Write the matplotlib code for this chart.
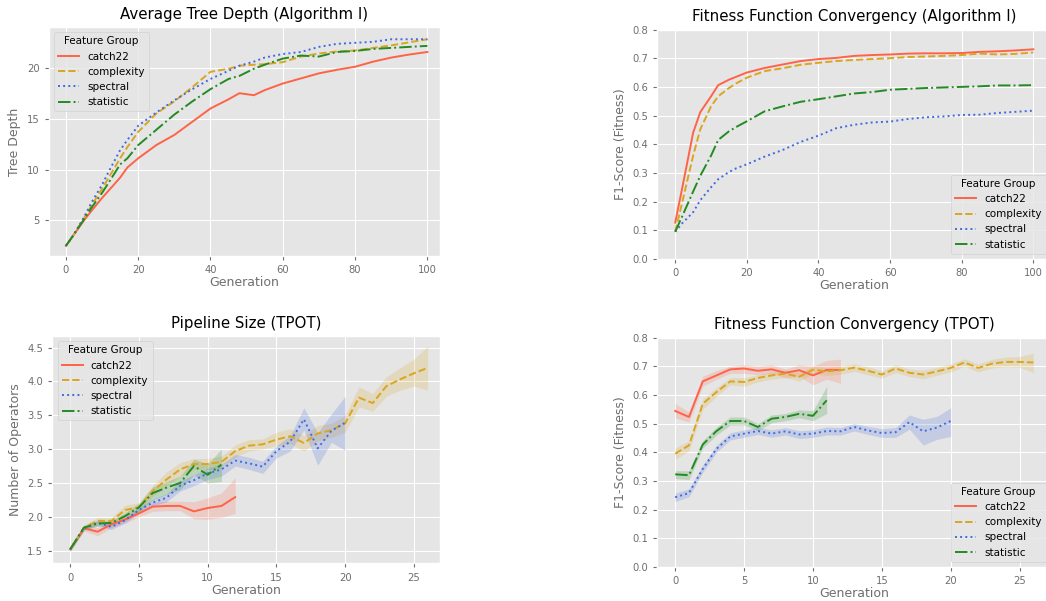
import matplotlib
matplotlib.use("Agg")
import matplotlib.pyplot as plt

plt.style.use("ggplot")

groups = ["catch22", "complexity", "spectral", "statistic"]
colors = ["tomato", "goldenrod", "royalblue", "forestgreen"]
styles = ["-", "--", ":", "-."]

# ---- Algorithm I: tree depth and fitness per generation ----
alg_gen = [0, 2, 5, 7, 10, 12, 15, 17, 20, 25, 30, 35, 40, 45, 48, 52, 55,
           60, 65, 70, 75, 80, 85, 90, 95, 100]
depth_catch22 = [2.5, 3.5, 5.0, 5.9, 7.2, 8.0, 9.2, 10.2, 11.1, 12.4, 13.4, 14.7,
                 16.0, 16.9, 17.5, 17.3, 17.8, 18.45, 18.95, 19.45, 19.8, 20.1,
                 20.6, 21.0, 21.3, 21.55]
depth_complexity = [2.5, 3.5, 5.2, 6.4, 8.1, 9.3, 11.1, 12.2, 13.7, 15.5, 16.7,
                    18.1, 19.6, 19.9, 20.2, 20.3, 20.35, 20.55, 21.1, 21.4, 21.6,
                    21.7, 21.95, 22.2, 22.5, 22.8]
depth_spectral = [2.5, 3.5, 5.3, 6.7, 8.5, 9.9, 11.9, 12.9, 14.3, 15.6, 16.8,
                  17.9, 18.9, 19.7, 20.2, 20.6, 21.0, 21.35, 21.55, 22.05, 22.35,
                  22.45, 22.55, 22.8, 22.8, 22.8]
depth_statistic = [2.5, 3.5, 5.1, 6.2, 7.7, 8.8, 10.5, 11.1, 12.4, 13.9, 15.4,
                   16.7, 17.9, 18.9, 19.2, 19.9, 20.3, 20.9, 21.2, 21.1, 21.55,
                   21.65, 21.85, 21.95, 22.05, 22.15]

fit_gen = [0, 2, 5, 7, 10, 12, 15, 17, 20, 25, 30, 35, 40, 45, 50, 55, 60, 65,
           70, 75, 80, 85, 90, 95, 100]
fit_catch22 = [0.127, 0.25, 0.44, 0.512, 0.567, 0.606, 0.625, 0.635, 0.65, 0.666,
               0.678, 0.69, 0.697, 0.701, 0.708, 0.711, 0.713, 0.716, 0.717,
               0.717, 0.718, 0.722, 0.724, 0.727, 0.731]
fit_complexity = [0.095, 0.20, 0.36, 0.452, 0.532, 0.567, 0.596, 0.612, 0.632,
                  0.655, 0.665, 0.677, 0.684, 0.69, 0.694, 0.697, 0.70, 0.704,
                  0.706, 0.708, 0.711, 0.716, 0.713, 0.715, 0.72]
fit_spectral = [0.095, 0.125, 0.163, 0.205, 0.25, 0.278, 0.303, 0.316, 0.33,
                0.357, 0.38, 0.408, 0.43, 0.456, 0.468, 0.476, 0.479, 0.488,
                0.494, 0.497, 0.502, 0.503, 0.509, 0.513, 0.517]
fit_statistic = [0.095, 0.15, 0.235, 0.29, 0.36, 0.415, 0.445, 0.46, 0.48, 0.515,
                 0.532, 0.548, 0.557, 0.567, 0.577, 0.582, 0.59, 0.593, 0.596,
                 0.598, 0.60, 0.602, 0.605, 0.605, 0.606]

# ---- TPOT: pipeline size (mean, lower, upper) ----
size_catch22 = [1.52, 1.83, 1.78, 1.89, 1.96, 2.05, 2.15, 2.16, 2.16, 2.08, 2.13,
                2.16, 2.29]
size_catch22_lo = [1.49, 1.79, 1.72, 1.84, 1.91, 2.0, 2.08, 2.09, 2.09, 1.97, 1.96,
                   1.99, 2.05]
size_catch22_hi = [1.55, 1.87, 1.84, 1.94, 2.01, 2.1, 2.21, 2.23, 2.23, 2.22, 2.28,
                   2.35, 2.58]
size_complexity = [1.52, 1.84, 1.94, 1.94, 2.1, 2.14, 2.38, 2.55, 2.7, 2.78, 2.78,
                   2.81, 2.97, 3.05, 3.07, 3.14, 3.19, 3.09, 3.23, 3.28, 3.38,
                   3.76, 3.68, 3.93, 4.03, 4.12, 4.2]
size_complexity_lo = [1.49, 1.8, 1.9, 1.9, 2.03, 2.08, 2.3, 2.45, 2.6, 2.7, 2.7,
                      2.72, 2.88, 2.97, 3.0, 3.05, 3.08, 2.97, 3.12, 3.17, 3.25,
                      3.62, 3.56, 3.78, 3.87, 3.93, 3.87]
size_complexity_hi = [1.55, 1.88, 1.99, 1.99, 2.17, 2.21, 2.46, 2.66, 2.8, 2.86,
                      2.86, 2.9, 3.06, 3.14, 3.15, 3.25, 3.3, 3.2, 3.35, 3.38, 3.5,
                      3.92, 3.82, 4.07, 4.2, 4.33, 4.52]
size_spectral = [1.52, 1.83, 1.91, 1.85, 1.95, 2.1, 2.21, 2.28, 2.46, 2.54, 2.64,
                 2.7, 2.83, 2.79, 2.74, 2.97, 3.11, 3.44, 3.01, 3.27, 3.39]
size_spectral_lo = [1.49, 1.8, 1.87, 1.81, 1.91, 2.05, 2.16, 2.22, 2.38, 2.46,
                    2.55, 2.6, 2.75, 2.7, 2.64, 2.87, 2.97, 3.28, 2.76, 3.1, 2.98]
size_spectral_hi = [1.55, 1.86, 1.95, 1.89, 1.99, 2.14, 2.26, 2.34, 2.53, 2.62,
                    2.72, 2.78, 2.92, 2.88, 2.82, 3.05, 3.2, 3.61, 3.24, 3.52, 3.78]
size_statistic = [1.52, 1.84, 1.9, 1.91, 2.01, 2.14, 2.35, 2.43, 2.5, 2.75, 2.62,
                  2.77]
size_statistic_lo = [1.49, 1.81, 1.86, 1.87, 1.96, 2.07, 2.25, 2.33, 2.4, 2.62,
                     2.5, 2.52]
size_statistic_hi = [1.55, 1.87, 1.94, 1.95, 2.06, 2.2, 2.44, 2.52, 2.6, 2.85,
                     2.78, 3.0]

# ---- TPOT: fitness (mean, lower, upper) ----
tfit_catch22 = [0.544, 0.523, 0.647, 0.668, 0.689, 0.692, 0.684, 0.689, 0.677,
                0.686, 0.668, 0.687, 0.687]
tfit_catch22_lo = [0.52, 0.505, 0.63, 0.655, 0.675, 0.675, 0.67, 0.675, 0.66,
                   0.665, 0.635, 0.655, 0.64]
tfit_catch22_hi = [0.57, 0.54, 0.665, 0.685, 0.70, 0.705, 0.70, 0.705, 0.69,
                   0.705, 0.70, 0.72, 0.725]
tfit_complexity = [0.395, 0.424, 0.569, 0.61, 0.647, 0.645, 0.659, 0.668, 0.674,
                   0.663, 0.688, 0.682, 0.686, 0.695, 0.684, 0.671, 0.692, 0.677,
                   0.671, 0.682, 0.694, 0.713, 0.694, 0.709, 0.715, 0.715, 0.713]
tfit_complexity_lo = [0.375, 0.405, 0.55, 0.595, 0.635, 0.63, 0.645, 0.655, 0.66,
                      0.648, 0.675, 0.668, 0.672, 0.682, 0.67, 0.658, 0.678, 0.664,
                      0.656, 0.668, 0.68, 0.70, 0.68, 0.694, 0.698, 0.696, 0.678]
tfit_complexity_hi = [0.415, 0.44, 0.585, 0.625, 0.66, 0.66, 0.67, 0.68, 0.688,
                      0.678, 0.70, 0.695, 0.70, 0.708, 0.698, 0.684, 0.705, 0.69,
                      0.686, 0.696, 0.708, 0.726, 0.708, 0.724, 0.732, 0.734, 0.745]
tfit_spectral = [0.243, 0.258, 0.342, 0.412, 0.455, 0.465, 0.474, 0.465, 0.473,
                 0.462, 0.465, 0.474, 0.473, 0.488, 0.476, 0.467, 0.47, 0.505,
                 0.473, 0.486, 0.509]
tfit_spectral_lo = [0.228, 0.245, 0.33, 0.40, 0.443, 0.452, 0.462, 0.452, 0.46,
                    0.448, 0.452, 0.46, 0.46, 0.474, 0.462, 0.452, 0.452, 0.48,
                    0.425, 0.445, 0.455]
tfit_spectral_hi = [0.258, 0.272, 0.355, 0.425, 0.468, 0.478, 0.487, 0.478, 0.486,
                    0.475, 0.478, 0.488, 0.486, 0.50, 0.49, 0.482, 0.486, 0.53,
                    0.515, 0.525, 0.555]
tfit_statistic = [0.323, 0.32, 0.427, 0.474, 0.509, 0.509, 0.488, 0.517, 0.523,
                  0.534, 0.527, 0.581]
tfit_statistic_lo = [0.308, 0.305, 0.415, 0.46, 0.495, 0.495, 0.475, 0.503, 0.51,
                     0.52, 0.51, 0.535]
tfit_statistic_hi = [0.336, 0.335, 0.44, 0.488, 0.523, 0.523, 0.50, 0.53, 0.535,
                     0.548, 0.545, 0.63]

TICK = 7.2
LAB = 9
TTL = 10.8
LEG = 7.5
GREY = "#6e6e6e"


def style_axis(ax, title, ylabel):
    ax.set_title(title, fontsize=TTL, color="black")
    ax.set_xlabel("Generation", fontsize=LAB, labelpad=1, color=GREY)
    ax.set_ylabel(ylabel, fontsize=LAB, color=GREY)
    ax.tick_params(labelsize=TICK, labelcolor=GREY, color=GREY, length=3)


def legend(ax, loc):
    lg = ax.legend(title="Feature Group", loc=loc, fontsize=LEG,
                   title_fontsize=LEG, labelspacing=0.5, borderpad=0.4)
    lg.get_title().set_color("black")


fig = plt.figure(figsize=(10.46, 6.01), dpi=100)

# top left
ax1 = fig.add_axes([0.0464, 0.574, 0.3743, 0.381])
for g, c, s, y in zip(groups, colors, styles,
                      [depth_catch22, depth_complexity, depth_spectral, depth_statistic]):
    ax1.plot(alg_gen, y, color=c, ls=s, lw=1.4, label=g)
ax1.set_xlim(-4.8, 103.5)
ax1.set_ylim(1.5, 24.0)
ax1.set_yticks([5, 10, 15, 20])
ax1.set_xticks([0, 20, 40, 60, 80, 100])
style_axis(ax1, "Average Tree Depth (Algorithm I)", "Tree Depth")
legend(ax1, "upper left")

# top right
ax2 = fig.add_axes([0.6284, 0.5691, 0.3766, 0.3818])
for g, c, s, y in zip(groups, colors, styles,
                      [fit_catch22, fit_complexity, fit_spectral, fit_statistic]):
    ax2.plot(fit_gen, y, color=c, ls=s, lw=1.4, label=g)
ax2.set_xlim(-5, 105)
ax2.set_ylim(0, 0.8)
ax2.set_yticks([i / 10 for i in range(9)])
ax2.set_xticks([0, 20, 40, 60, 80, 100])
style_axis(ax2, "Fitness Function Convergency (Algorithm I)", "F1-Score (Fitness)")
legend(ax2, "lower right")

# bottom left
ax3 = fig.add_axes([0.05, 0.0624, 0.3707, 0.3785])
size_sets = [(size_catch22, size_catch22_lo, size_catch22_hi),
             (size_complexity, size_complexity_lo, size_complexity_hi),
             (size_spectral, size_spectral_lo, size_spectral_hi),
             (size_statistic, size_statistic_lo, size_statistic_hi)]
for g, c, s, (m, lo, hi) in zip(groups, colors, styles, size_sets):
    x = list(range(len(m)))
    ax3.fill_between(x, lo, hi, color=c, alpha=0.2, lw=0)
    ax3.plot(x, m, color=c, ls=s, lw=1.4, label=g)
ax3.set_xlim(-1.3, 26.9)
ax3.set_ylim(1.31, 4.67)
ax3.set_xticks([0, 5, 10, 15, 20, 25])
ax3.set_yticks([1.5, 2.0, 2.5, 3.0, 3.5, 4.0, 4.5])
style_axis(ax3, "Pipeline Size (TPOT)", "Number of Operators")
legend(ax3, "upper left")

# bottom right
ax4 = fig.add_axes([0.6284, 0.0566, 0.3766, 0.3818])
fit_sets = [(tfit_catch22, tfit_catch22_lo, tfit_catch22_hi),
            (tfit_complexity, tfit_complexity_lo, tfit_complexity_hi),
            (tfit_spectral, tfit_spectral_lo, tfit_spectral_hi),
            (tfit_statistic, tfit_statistic_lo, tfit_statistic_hi)]
for g, c, s, (m, lo, hi) in zip(groups, colors, styles, fit_sets):
    x = list(range(len(m)))
    ax4.fill_between(x, lo, hi, color=c, alpha=0.2, lw=0)
    ax4.plot(x, m, color=c, ls=s, lw=1.4, label=g)
ax4.set_xlim(-1.3, 27.3)
ax4.set_ylim(0, 0.8)
ax4.set_xticks([0, 5, 10, 15, 20, 25])
ax4.set_yticks([i / 10 for i in range(9)])
style_axis(ax4, "Fitness Function Convergency (TPOT)", "F1-Score (Fitness)")
legend(ax4, "lower right")

fig.savefig("out.png", dpi=100)
